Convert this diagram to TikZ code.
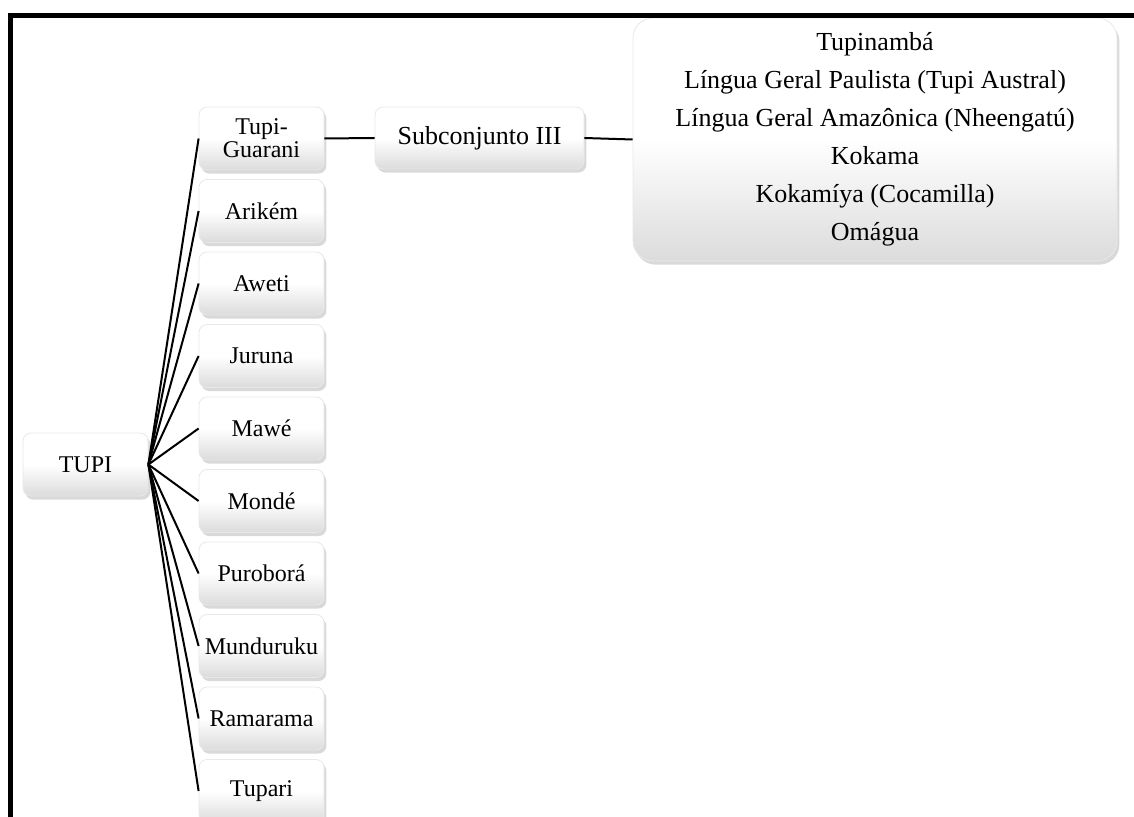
\documentclass[tikz,border=0pt]{standalone}
\usepackage{fontspec}
\setmainfont{Liberation Serif}
\usetikzlibrary{shadows}

\tikzset{
    box/.style={rounded corners=4pt,draw=black!9,line width=0.4pt,top color=white,bottom color=black!14,middle color=white,
        drop shadow={shadow xshift=1.2pt,shadow yshift=-1.8pt,opacity=0.3},
        minimum width=62.5pt,minimum height=31.5pt,align=center,inner sep=1pt,
        font=\fontsize{12}{12}\selectfont},
    link/.style={line width=1pt}
}

\begin{document}
\begin{tikzpicture}[x=0.5pt,y=-0.5pt]
    \useasboundingbox (0,0) rectangle (1134,817);
    \clip (0,0) rectangle (1134,817);
    \node[box] (tupi) at (85.5,464.5) {TUPI};
    \node[box,font=\fontsize{12}{11.5}\selectfont] (tg) at (261.5,138.5) {Tupi-\\Guarani};
    \foreach \nm/\txt [count=\i] in {ari/Arikém,awe/Aweti,jur/Juruna,maw/Mawé,mon/Mondé,pur/Puroborá,mun/Munduruku,ram/Ramarama,tup/Tupari}
        \node[box] (\nm) at (261.5,138.5+72.5*\i) {\txt};
    \foreach \nm in {tg,ari,awe,jur,maw,mon,pur,mun,ram,tup}
        \draw[link] (tupi.east)--(\nm.west);
    \node[box,minimum width=104.5pt,minimum height=31pt,font=\fontsize{13}{13}\selectfont] (sub) at (479.5,138) {Subconjunto III};
    \node[box,rounded corners=10pt,minimum width=242pt,minimum height=121.5pt,font=\fontsize{13}{19}\selectfont] (list) at (875,139.5)
        {Tupinambá\\Língua Geral Paulista (Tupi Austral)\\Língua Geral Amazônica (Nheengatú)\\Kokama\\Kokamíya (Cocamilla)\\Omágua};
    \draw[link] (tg.east)--(sub.west);
    \draw[link] (sub.east)--(list.west);
    \draw[line width=2.5pt] (10,840)--(10,15.8)--(1150,15.8);
\end{tikzpicture}
\end{document}
